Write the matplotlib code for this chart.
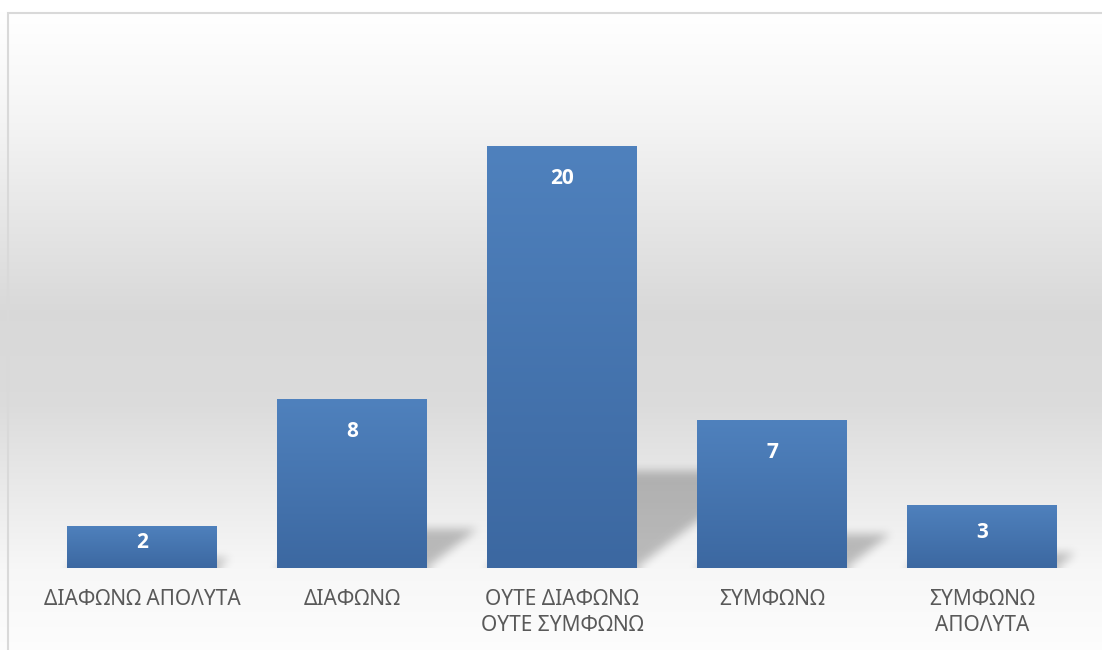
import numpy as np
import matplotlib
matplotlib.use("Agg")
import matplotlib.pyplot as plt
from matplotlib.colors import to_rgb
from matplotlib.patches import Rectangle

plt.rcParams['font.family'] = ['Noto Sans', 'DejaVu Sans']

# survey answers and counts
categories = ['ΔΙΑΦΩΝΩ ΑΠΟΛΥΤΑ', 'ΔΙΑΦΩΝΩ', 'ΟΥΤΕ ΔΙΑΦΩΝΩ\nΟΥΤΕ ΣΥΜΦΩΝΩ',
              'ΣΥΜΦΩΝΩ', 'ΣΥΜΦΩΝΩ\nΑΠΟΛΥΤΑ']
counts = [2, 8, 20, 7, 3]

W, H = 1102, 650
fig = plt.figure(figsize=(W / 100, H / 100), dpi=100)

# background: white -> grey -> white, vertical
bg = fig.add_axes([0, 0, 1, 1], zorder=0)
bg.set_axis_off()
ypos = np.linspace(0, 1, 400)  # 0 = top
stops = [0.0, 0.02, 0.18, 0.48, 0.62, 0.88, 1.0]
grey = [1.0, 1.0, 0.96, 0.85, 0.86, 0.97, 0.99]
col = np.interp(ypos, stops, grey)
bg.imshow(np.repeat(col[:, None, None], 3, axis=2), aspect='auto',
          extent=[0, 1, 0, 1], transform=bg.transAxes)
# frame around the chart, open at right/bottom
bg.add_patch(Rectangle((7.5 / W, -0.1), 1.2, 1 - 12.5 / H + 0.1,
                       transform=bg.transAxes, fill=False,
                       edgecolor='#d9d9d9', linewidth=1.5))
bg.set_xlim(0, 1)
bg.set_ylim(0, 1)

ax = fig.add_axes([37 / W, 82 / H, 1050 / W, (568 - 40.5) / H], zorder=1)
ax.patch.set_alpha(0)
for s in ax.spines.values():
    s.set_visible(False)
ax.set_xlim(-0.5, len(counts) - 0.5)
ax.set_ylim(0, 25)
ax.set_yticks([])

x = np.arange(len(counts))
bw = 0.714

# soft shadows cast up and to the right of each bar
nx, ny = 1050, 528
gx = np.linspace(-0.5, len(counts) - 0.5, nx)
gy = np.linspace(25, 0, ny)
XX, YY = np.meshgrid(gx, gy)
mask = np.zeros_like(XX)
shear = 0.131
for xi, v in zip(x, counts):
    xs = XX - shear * YY
    inside = (YY >= 0) & (YY <= 0.23 * v) & (xs >= xi - bw / 2) & (xs <= xi + bw / 2)
    mask[inside] = 1.0


def box_blur(a, r, axis):
    pad = [(0, 0), (0, 0)]
    pad[axis] = (r + 1, r)
    p = np.pad(a, pad, mode='edge')
    c = np.cumsum(p, axis=axis)
    if axis == 0:
        return (c[2 * r + 1:] - c[:-2 * r - 1]) / (2 * r + 1)
    return (c[:, 2 * r + 1:] - c[:, :-2 * r - 1]) / (2 * r + 1)


for _ in range(3):
    mask = box_blur(mask, 4, 0)
    mask = box_blur(mask, 4, 1)
shadow = np.zeros((ny, nx, 4))
shadow[..., 3] = 0.24 * mask
ax.imshow(shadow, extent=[-0.5, len(counts) - 0.5, 0, 25], aspect='auto',
          zorder=1, interpolation='bilinear')

# bars with a light-to-dark blue gradient
top_c = np.array(to_rgb('#4f81bd'))
bot_c = np.array(to_rgb('#3c68a1'))
grad = np.linspace(0, 1, 100)[:, None, None]
grad_img = top_c * (1 - grad) + bot_c * grad
bars = ax.bar(x, counts, width=bw, color='#4a7ab5', zorder=2)
for b in bars:
    bx, by = b.get_x(), b.get_y()
    im = ax.imshow(grad_img, extent=[bx, bx + b.get_width(), by, by + b.get_height()],
                   aspect='auto', zorder=3, interpolation='bilinear')
    im.set_clip_path(b)

# value labels just inside the top of each bar
px_per_unit = ax.transData.transform((0, 1))[1] - ax.transData.transform((0, 0))[1]
for xi, v in zip(x, counts):
    off = min(32, v * px_per_unit / 2 - 4) * 0.72
    ax.annotate(str(v), (xi, v), xytext=(0, -off), textcoords='offset points',
                ha='center', va='center', color='white', fontsize=15,
                fontweight='bold', family=['Open Sans', 'DejaVu Sans'], zorder=4)

ax.set_xticks(x)
ax.set_xticklabels(categories, fontsize=15, color='#595959', linespacing=1.35)
ax.tick_params(axis='x', length=0, pad=15)

fig.savefig('out.png', dpi=100)
